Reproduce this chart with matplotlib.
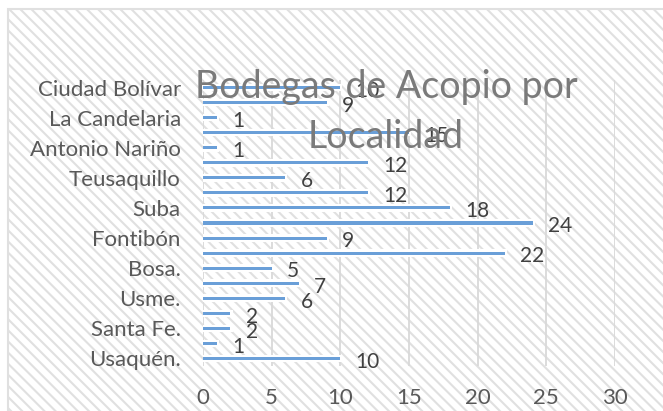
import numpy as np
import matplotlib.pyplot as plt
from matplotlib.patches import Rectangle

# Datos (de abajo hacia arriba, como en el gráfico)
localidades = ["Usaquén.", "Chapinero.", "Santa Fe.", "San Cristóbal.", "Usme.",
               "Tunjuelito.", "Bosa.", "Kennedy", "Fontibón", "Engativá", "Suba",
               "Barrios Unidos", "Teusaquillo", "Los Mártires", "Antonio Nariño",
               "Puente Aranda", "La Candelaria", "Rafael Uribe Uribe", "Ciudad Bolívar"]
bodegas = [10, 1, 2, 2, 6, 7, 5, 22, 9, 24, 18, 12, 6, 12, 1, 15, 1, 9, 10]
ticks_x = [0, 5, 10, 15, 20, 25, 30]
titulo = "Bodegas de Acopio por\nLocalidad"

plt.rcParams['font.family'] = ['Lato', 'DejaVu Sans']
plt.rcParams['hatch.linewidth'] = 1.5

gris_texto = '#595959'
gris_fondo = '#e0e0e0'
azul = '#6a9fd8'

fig = plt.figure(figsize=(6.63, 4.11), dpi=100)
W, H = 663, 411

# fondo rayado del área del gráfico (estilo Excel)
fondo = Rectangle((8 / W, -0.1), 1.2, 1 - 9 / H + 0.1, transform=fig.transFigure,
                  facecolor='white', edgecolor=gris_fondo, hatch='\\\\\\',
                  linewidth=1.5, zorder=-5)
fig.patches.append(fondo)

ax = fig.add_axes([203 / W, (H - 366) / H, (615 - 203) / W, (366 - 80) / H])
ax.set_zorder(1)
ax.patch.set_alpha(0)
for s in ax.spines.values():
    s.set_visible(False)

y = np.arange(len(localidades))
vals = np.array(bodegas)

# halo blanco + barra azul delgada
ax.barh(y, vals + 0.25, left=-0.1, height=0.5, color='white', zorder=2)
ax.barh(y, vals, height=0.2, color=azul, zorder=3)

for yi, v in zip(y, vals):
    ax.text(v + 1.1, yi - 0.22, str(v), ha='left', va='center',
            fontsize=15, color='#404040', zorder=4)

ax.set_xlim(0, 30)
ax.set_ylim(-0.5, len(localidades) - 0.5)
ax.set_xticks(ticks_x)
ax.set_yticks(y[::2])
ax.set_yticklabels(localidades[::2])
ax.tick_params(axis='both', length=0, labelsize=16, labelcolor=gris_texto)
ax.tick_params(axis='x', pad=16)
ax.tick_params(axis='y', pad=16)
ax.grid(axis='x', color='#d9d9d9', linewidth=1.3, zorder=1)
ax.set_axisbelow(True)

fig.text(386 / W, 1 - 112 / H, titulo, ha='center', va='center', fontsize=27,
         color='#7a7a7a', linespacing=1.5, zorder=10)

fig.savefig('out.png', dpi=100)
